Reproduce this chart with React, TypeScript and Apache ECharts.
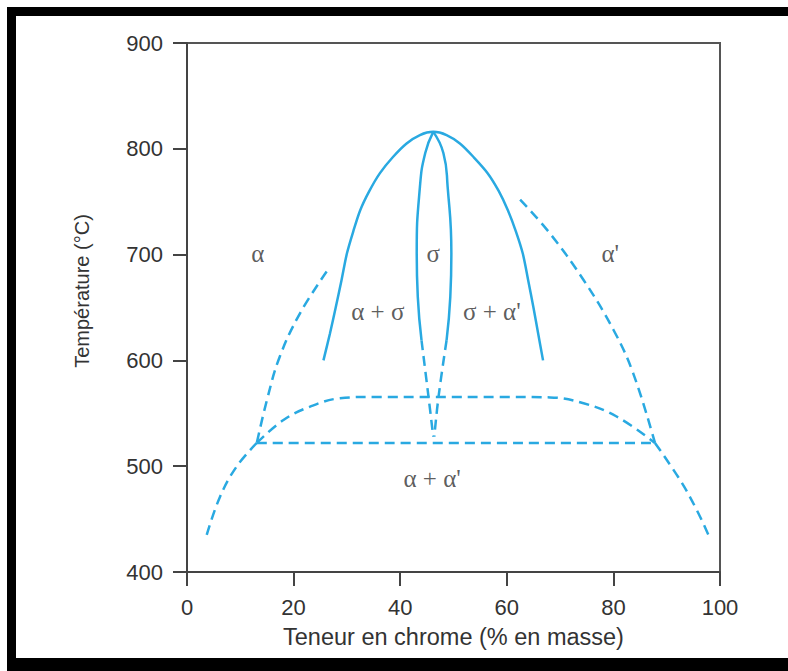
import React, { useEffect, useRef } from "react";
import * as echarts from "echarts";

const xTicks = [0, 20, 40, 60, 80, 100];
const yTicks = [400, 500, 600, 700, 800, 900];

const outerDome: number[][] = [
  [25.6, 600], [26.8, 625], [27.9, 650], [29.0, 676], [30.0, 701], [31.2, 722],
  [32.5, 742], [34.2, 760], [36.2, 777], [38.6, 792], [41.2, 805], [43.7, 813],
  [46.2, 816], [48.7, 813], [51.2, 805], [53.8, 792], [56.4, 777], [58.5, 760],
  [60.2, 742], [61.7, 722], [63.0, 701], [64.0, 676], [65.0, 650], [65.9, 625],
  [66.8, 600],
];
const lensLeftSolid: number[][] = [
  [46.2, 816], [44.7, 796], [43.7, 764], [43.1, 701], [43.3, 660], [44.0, 619],
];
const lensRightSolid: number[][] = [
  [46.2, 816], [48.1, 796], [48.9, 764], [49.6, 701], [49.4, 660], [48.7, 619],
];
const lensLeftDashed: number[][] = [[44.0, 619], [45.3, 566], [46.2, 528]];
const lensRightDashed: number[][] = [[48.7, 619], [47.2, 566], [46.4, 528]];
const leftUpperDashed: number[][] = [
  [26.2, 684], [21.2, 644.5], [17.4, 603.5], [15.0, 562.6], [13.1, 522],
];
const leftLowerDashed: number[][] = [[13.1, 522], [9.3, 499.6], [6.2, 471.2], [3.7, 435]];
const rightUpperDashed: number[][] = [
  [62.5, 752], [68.1, 720], [74.4, 676], [80.0, 629], [83.7, 588], [87.8, 522],
];
const rightLowerDashed: number[][] = [[87.8, 522], [92.5, 487], [95.6, 459], [98.1, 432]];
const innerDomeDashed: number[][] = [
  [13.1, 522], [18.1, 543.7], [23.1, 556.3], [28.7, 564.2], [35, 565.5], [46, 565.5],
  [58.7, 565.5], [68.1, 565], [74.4, 559.5], [80.6, 547], [87.8, 522],
];
const horizontalDashed: number[][] = [[13.1, 522], [87.8, 522]];

const phaseLabels = ["α", "σ", "α'", "α + σ", "σ + α'", "α + α'"];
const phaseX = [13.3, 46.2, 79.4, 35.8, 57.2, 46];
const phaseY = [701, 701, 701, 646, 646, 488];

const BLUE = "#29a9e1";
const TEXT = "#333333";
const SANS = "'Liberation Sans', Arial, sans-serif";

export default function App() {
  const ref = useRef<HTMLDivElement>(null);
  useEffect(() => {
    if (!ref.current) return;
    const chart = echarts.init(ref.current, undefined, { renderer: "svg" });
    const solid = (data: number[][], s: number) => ({
      type: "line",
      data,
      smooth: s,
      showSymbol: false,
      symbol: "none",
      lineStyle: { color: BLUE, width: 2.5, type: "solid" },
      silent: true,
    });
    const dashed = (data: number[][]) => ({
      type: "line",
      data,
      smooth: 0.4,
      showSymbol: false,
      symbol: "none",
      lineStyle: { color: BLUE, width: 2.5, type: [10, 6] },
      silent: true,
    });
    chart.setOption({
      animation: false,
      backgroundColor: "#ffffff",
      grid: {
        left: 187,
        top: 43,
        width: 533,
        height: 529,
        show: true,
        borderColor: "#555",
        borderWidth: 2,
        backgroundColor: "transparent",
      },
      xAxis: {
        type: "value",
        min: 0,
        max: 100,
        interval: 20,
        name: "Teneur en chrome (% en masse)",
        nameLocation: "middle",
        nameGap: 53,
        nameTextStyle: { color: TEXT, fontSize: 23.5, fontFamily: SANS },
        axisLine: { show: true, lineStyle: { color: "#444", width: 2 } },
        axisTick: { show: true, length: 14, lineStyle: { color: "#444", width: 2 } },
        axisLabel: {
          color: TEXT,
          fontSize: 22,
          fontFamily: SANS,
          margin: 24,
          formatter: (v: number) => (xTicks.includes(v) ? String(v) : ""),
        },
        splitLine: { show: false },
      },
      yAxis: {
        type: "value",
        min: 400,
        max: 900,
        interval: 100,
        axisLine: { show: true, lineStyle: { color: "#444", width: 2 } },
        axisTick: { show: true, length: 14, lineStyle: { color: "#444", width: 2 } },
        axisLabel: {
          color: TEXT,
          fontSize: 22,
          fontFamily: SANS,
          margin: 24,
          formatter: (v: number) => (yTicks.includes(v) ? String(v) : ""),
        },
        splitLine: { show: false },
      },
      series: [
        solid(outerDome, 0.3),
        solid(lensLeftSolid, 0.5),
        solid(lensRightSolid, 0.5),
        dashed(lensLeftDashed),
        dashed(lensRightDashed),
        dashed(leftUpperDashed),
        dashed(leftLowerDashed),
        dashed(rightUpperDashed),
        dashed(rightLowerDashed),
        dashed(innerDomeDashed),
        dashed(horizontalDashed),
        {
          type: "scatter",
          symbolSize: 0,
          silent: true,
          data: phaseLabels.map((t, i) => ({ value: [phaseX[i], phaseY[i]], name: t })),
          label: {
            show: true,
            position: "inside",
            formatter: (p: any) => p.name,
            color: TEXT,
            fontSize: 25,
            fontFamily: "'Liberation Serif', 'Times New Roman', serif",
          },
        },
      ],
      graphic: [
        { type: "rect", shape: { x: 7, y: 7, width: 781, height: 9 }, style: { fill: "#000" }, silent: true },
        { type: "rect", shape: { x: 7, y: 7, width: 9, height: 664 }, style: { fill: "#000" }, silent: true },
        { type: "rect", shape: { x: 7, y: 658, width: 781, height: 13 }, style: { fill: "#000" }, silent: true },
        {
          type: "text",
          x: 82,
          y: 291,
          rotation: Math.PI / 2,
          silent: true,
          style: {
            text: "Température (°C)",
            fill: TEXT,
            fontSize: 20,
            fontFamily: SANS,
            textAlign: "center",
            textVerticalAlign: "middle",
          },
        },
      ],
    });
    return () => chart.dispose();
  }, []);
  return <div ref={ref} style={{ width: 788, height: 671, position: "absolute", left: 0, top: 0 }} />;
}
